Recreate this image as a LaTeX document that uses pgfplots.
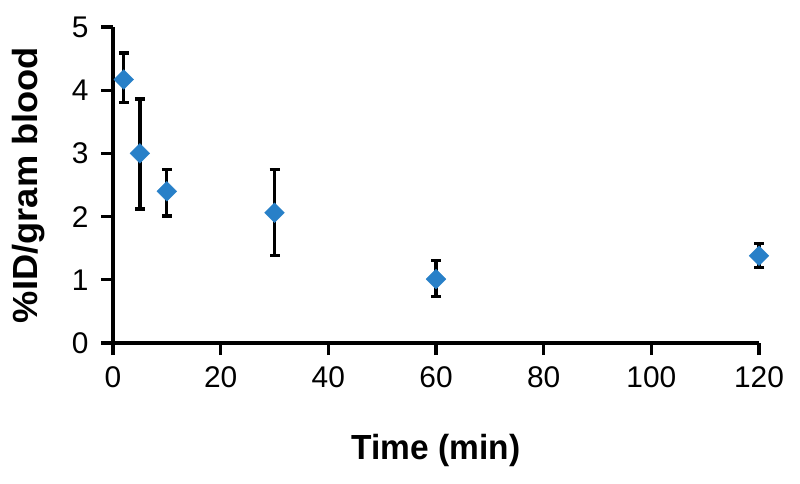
\documentclass[border=0pt]{standalone}
\usepackage{pgfplots}
\pgfplotsset{compat=1.18}
\usepackage{fontspec}
\setmainfont{Liberation Sans}
\newfontfamily\xlabfont{Liberation Sans}[FakeStretch=0.96]
\newfontfamily\ylabfont{Liberation Sans}[FakeStretch=1.04]
\definecolor{mkblue}{RGB}{40,128,200}
\begin{document}
\begin{tikzpicture}
\useasboundingbox (0,0) rectangle (800bp,484bp);
\begin{axis}[
  at={(113bp,141bp)}, anchor=south west,
  scale only axis, width=646bp, height=316bp,
  xmin=0, xmax=120, ymin=0, ymax=5,
  axis x line*=bottom, axis y line*=left,
  axis line style={line width=3.2bp, black},
  xtick={0,20,...,120}, ytick={0,1,...,5},
  xtick pos=bottom, ytick pos=left,
  tick align=outside,
  major tick length=12bp,
  major tick style={line width=3.2bp, black},
  /pgf/number format/assume math mode=true,
  tick label style={font=\fontsize{30}{33}\selectfont},
  xticklabel style={yshift=-8bp},
  yticklabel style={xshift=-9bp},
  xlabel={Time (min)},
  ylabel={\%ID/gram blood},
  xlabel style={font=\fontsize{35}{38}\selectfont\xlabfont\bfseries, at={(axis description cs:0.5,-0.339)}, anchor=center},
  ylabel style={font=\fontsize{35}{38}\selectfont\ylabfont\bfseries, at={(axis description cs:-0.130,0.5)}, anchor=center},
  clip=false,
]
\addplot[only marks, mark=square*, mark size=7bp, mark options={rotate=45, fill=mkblue, draw=mkblue},
  error bars/.cd, y dir=both, y explicit,
  error bar style={line width=3.2bp, black},
  error mark options={rotate=90, mark size=5bp, line width=3.2bp, black}]
coordinates {
  (2,4.17) += (0,0.42) -= (0,0.37)
  (5,3.00) += (0,0.86) -= (0,0.88)
  (10,2.40) += (0,0.35) -= (0,0.39)
  (30,2.06) += (0,0.69) -= (0,0.68)
  (60,1.01) += (0,0.29) -= (0,0.27)
  (120,1.38) += (0,0.19) -= (0,0.18)
};
\end{axis}
\end{tikzpicture}
\end{document}
